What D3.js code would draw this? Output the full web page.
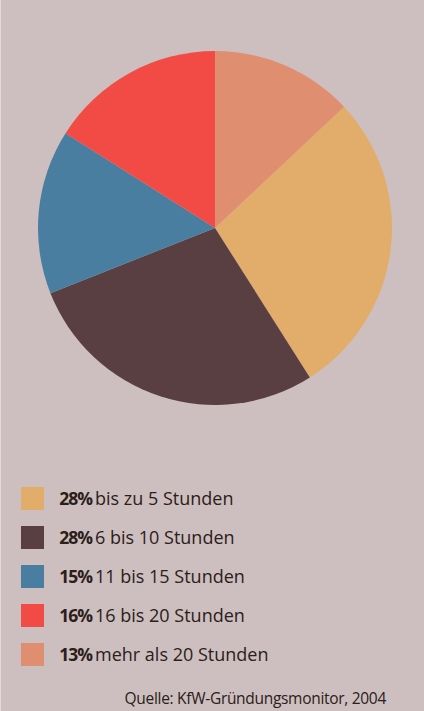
<!DOCTYPE html>
<html>
<head>
<meta charset="utf-8">
<script src="https://cdn.jsdelivr.net/npm/d3@7"></script>
<style>
  html, body { margin: 0; padding: 0; background: #cdbfbf; }
  svg { display: block; }
  text { font-family: "Open Sans", "Noto Sans", sans-serif; fill: #2b2019; }
</style>
</head>
<body>
<svg id="chart" width="424" height="711"></svg>
<script>
// data, in legend order
const labels = ["bis zu 5 Stunden", "6 bis 10 Stunden", "11 bis 15 Stunden", "16 bis 20 Stunden", "mehr als 20 Stunden"];
const shares = [28, 28, 15, 16, 13];
const colors = ["#e2ad6a", "#5a3f42", "#4a7ea0", "#f24b45", "#e08e70"];
const source = "Quelle: KfW-Gründungsmonitor, 2004";

const width = 424, height = 711;
const cx = 215, cy = 228, radius = 177;

const svg = d3.select("#chart");

// left edge line
svg.append("rect").attr("x", 0).attr("y", 0).attr("width", 1).attr("height", height).attr("fill", "#e3d9d9");

const data = labels.map((l, i) => ({label: l, value: shares[i], color: colors[i]}));

// pie starts after the last slice (salmon sits at 12 o'clock)
const total = d3.sum(shares);
const start = 2 * Math.PI * shares[shares.length - 1] / total;

const pie = d3.pie()
  .value(d => d.value)
  .sort(null)
  .startAngle(start)
  .endAngle(start + 2 * Math.PI);

const arc = d3.arc().innerRadius(0).outerRadius(radius);

const g = svg.append("g").attr("transform", `translate(${cx}, ${cy})`);
g.selectAll("path")
  .data(pie(data))
  .enter()
  .append("path")
  .attr("d", arc)
  .attr("fill", d => d.data.color);

// legend
const rowY = d3.scalePoint().domain(d3.range(data.length)).range([487, 643]);

const legend = svg.append("g");
const rows = legend.selectAll("g")
  .data(data)
  .enter()
  .append("g")
  .attr("transform", (d, i) => `translate(0, ${rowY(i)})`);

rows.append("rect")
  .attr("x", 21)
  .attr("width", 23)
  .attr("height", 23)
  .attr("fill", d => d.color);

rows.append("text")
  .attr("x", 92)
  .attr("y", 17.5)
  .attr("text-anchor", "end")
  .attr("font-size", 17.5)
  .attr("font-weight", "bold")
  .attr("letter-spacing", -1)
  .text(d => d.value + "%");

rows.append("text")
  .attr("x", 95)
  .attr("y", 17.5)
  .attr("font-size", 18)
  .attr("letter-spacing", 0)
  .text(d => d.label);

svg.append("text")
  .attr("x", 386)
  .attr("y", 704)
  .attr("text-anchor", "end")
  .attr("font-size", 15.5)
  .attr("letter-spacing", -0.3)
  .text(source);
</script>
</body>
</html>
